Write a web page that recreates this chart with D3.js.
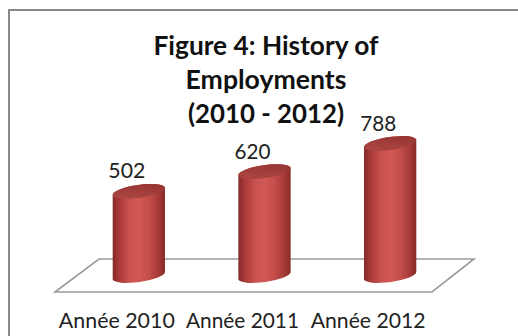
<!DOCTYPE html>
<html>
<head>
<meta charset="utf-8">
<script src="https://cdn.jsdelivr.net/npm/d3@7"></script>
<style>
  html, body { margin: 0; padding: 0; background: #fff; }
  svg { display: block; }
</style>
</head>
<body>
<svg id="chart" width="518" height="336"></svg>
<script>
// Chart data
const categories = ["Année 2010", "Année 2011", "Année 2012"];
const employments = [502, 620, 788];
const titleLines = ["Figure 4: History of", "Employments", "(2010 - 2012)"];

const W = 518, H = 336;
const svg = d3.select("#chart");

// Outer frame (open on right and bottom, as it runs past the page edge)
svg.append("rect")
  .attr("x", 9).attr("y", 10)
  .attr("width", 520).attr("height", 340)
  .attr("fill", "#fff")
  .attr("stroke", "#888").attr("stroke-width", 2);

// 3D floor geometry: front edge + depth offset
const floorFrontY = 292;
const depth = { dx: 42, dy: -33 };

const x = d3.scaleBand()
  .domain(categories)
  .range([55, 432])
  .paddingInner(0).paddingOuter(0);

const y = d3.scaleLinear()
  .domain([0, 800])
  .range([0, 134]);  // pixel height above the floor mid-line

// Floor parallelogram
const fl = [
  [x.range()[0], floorFrontY],
  [x.range()[1], floorFrontY],
  [x.range()[1] + depth.dx, floorFrontY + depth.dy],
  [x.range()[0] + depth.dx + 2, floorFrontY + depth.dy]
];
svg.append("path")
  .attr("d", d3.line()(fl) + "Z")
  .attr("fill", "#fff")
  .attr("stroke", "#9a9a9a")
  .attr("stroke-width", 1.6);

// Gradients for cylinders
const defs = svg.append("defs");
const bodyGrad = defs.append("linearGradient").attr("id", "bodyGrad")
  .attr("x1", "0").attr("x2", "1").attr("y1", "0").attr("y2", "0");
[
  [0, "#85282a"], [0.12, "#a83a38"], [0.32, "#c9524e"], [0.5, "#d05955"],
  [0.68, "#c54f4b"], [0.88, "#a53a37"], [1, "#862927"]
].forEach(([o, c]) => bodyGrad.append("stop").attr("offset", o).attr("stop-color", c));

const topGrad = defs.append("linearGradient").attr("id", "topGrad")
  .attr("x1", "0").attr("x2", "1").attr("y1", "1").attr("y2", "0");
[
  [0, "#b04845"], [0.5, "#a23e3b"], [1, "#8f312e"]
].forEach(([o, c]) => topGrad.append("stop").attr("offset", o).attr("stop-color", c));

// Cylinder dimensions
const rx = x.bandwidth() * 0.21;
const ry = 6.5;
const tilt = -8; // degrees
const th = Math.abs(tilt) * Math.PI / 180;
const baseY = floorFrontY + depth.dy / 2;   // mid-depth line where bars stand
const shiftX = depth.dx / 2;

const data = categories.map((c, i) => ({ cat: c, value: employments[i] }));

const bars = svg.append("g").selectAll("g.bar")
  .data(data)
  .join("g")
  .attr("class", "bar");

bars.each(function(d) {
  const g = d3.select(this);
  const cx = x(d.cat) + x.bandwidth() / 2 + shiftX;
  const yTop = baseY - y(d.value);
  const lx = cx - rx * Math.cos(th), rxp = cx + rx * Math.cos(th);
  const dyL = rx * Math.sin(th);

  // body: vertical sides, rounded bottom, rounded top (covered by the cap)
  const body = `M${lx},${yTop + dyL} L${lx},${baseY + dyL}
    A${rx},${ry} ${tilt} 0 0 ${rxp},${baseY - dyL}
    L${rxp},${yTop - dyL}
    A${rx},${ry} ${tilt} 0 0 ${lx},${yTop + dyL} Z`;
  g.append("path").attr("d", body).attr("fill", "url(#bodyGrad)");

  // top cap
  g.append("ellipse")
    .attr("cx", cx).attr("cy", yTop)
    .attr("rx", rx).attr("ry", ry)
    .attr("transform", `rotate(${tilt},${cx},${yTop})`)
    .attr("fill", "url(#topGrad)");

  // value label
  g.append("text")
    .attr("x", cx - 12)
    .attr("y", yTop - 13)
    .attr("text-anchor", "middle")
    .attr("font-family", "Lato, 'Open Sans', sans-serif")
    .attr("font-size", 19)
    .attr("fill", "#222")
    .text(d.value);
});

// Category labels along the front edge of the floor
svg.append("g").selectAll("text.cat")
  .data(categories)
  .join("text")
  .attr("class", "cat")
  .attr("x", d => x(d) + x.bandwidth() / 2 - 1)
  .attr("y", 328)
  .attr("text-anchor", "middle")
  .attr("font-family", "Lato, 'Open Sans', sans-serif")
  .attr("font-size", 20)
  .attr("fill", "#222")
  .text(d => d);

// Title (three centred lines)
const titleX = 266;
const titleY = [55, 89, 123];
svg.append("g").selectAll("text.title")
  .data(titleLines)
  .join("text")
  .attr("class", "title")
  .attr("x", titleX)
  .attr("y", (d, i) => titleY[i])
  .attr("text-anchor", "middle")
  .attr("font-family", "Lato, 'Open Sans', sans-serif")
  .attr("font-weight", "bold")
  .attr("font-size", 22)
  .attr("fill", "#111")
  .text(d => d);

// Size text so its width matches the layout widths used for each label
function fitWidth(sel, widths) {
  sel.each(function(d, i) {
    const t = d3.select(this);
    const fs = +t.attr("font-size");
    const w = this.getComputedTextLength();
    const target = widths[i];
    if (w > 0) t.attr("font-size", (fs * target / w).toFixed(2));
  });
}
fitWidth(svg.selectAll("text.title"), [225, 161, 156]);
fitWidth(svg.selectAll("text.cat"), [116, 113, 115]);
fitWidth(svg.selectAll("g.bar text"), [37, 36, 36]);
</script>
</body>
</html>
